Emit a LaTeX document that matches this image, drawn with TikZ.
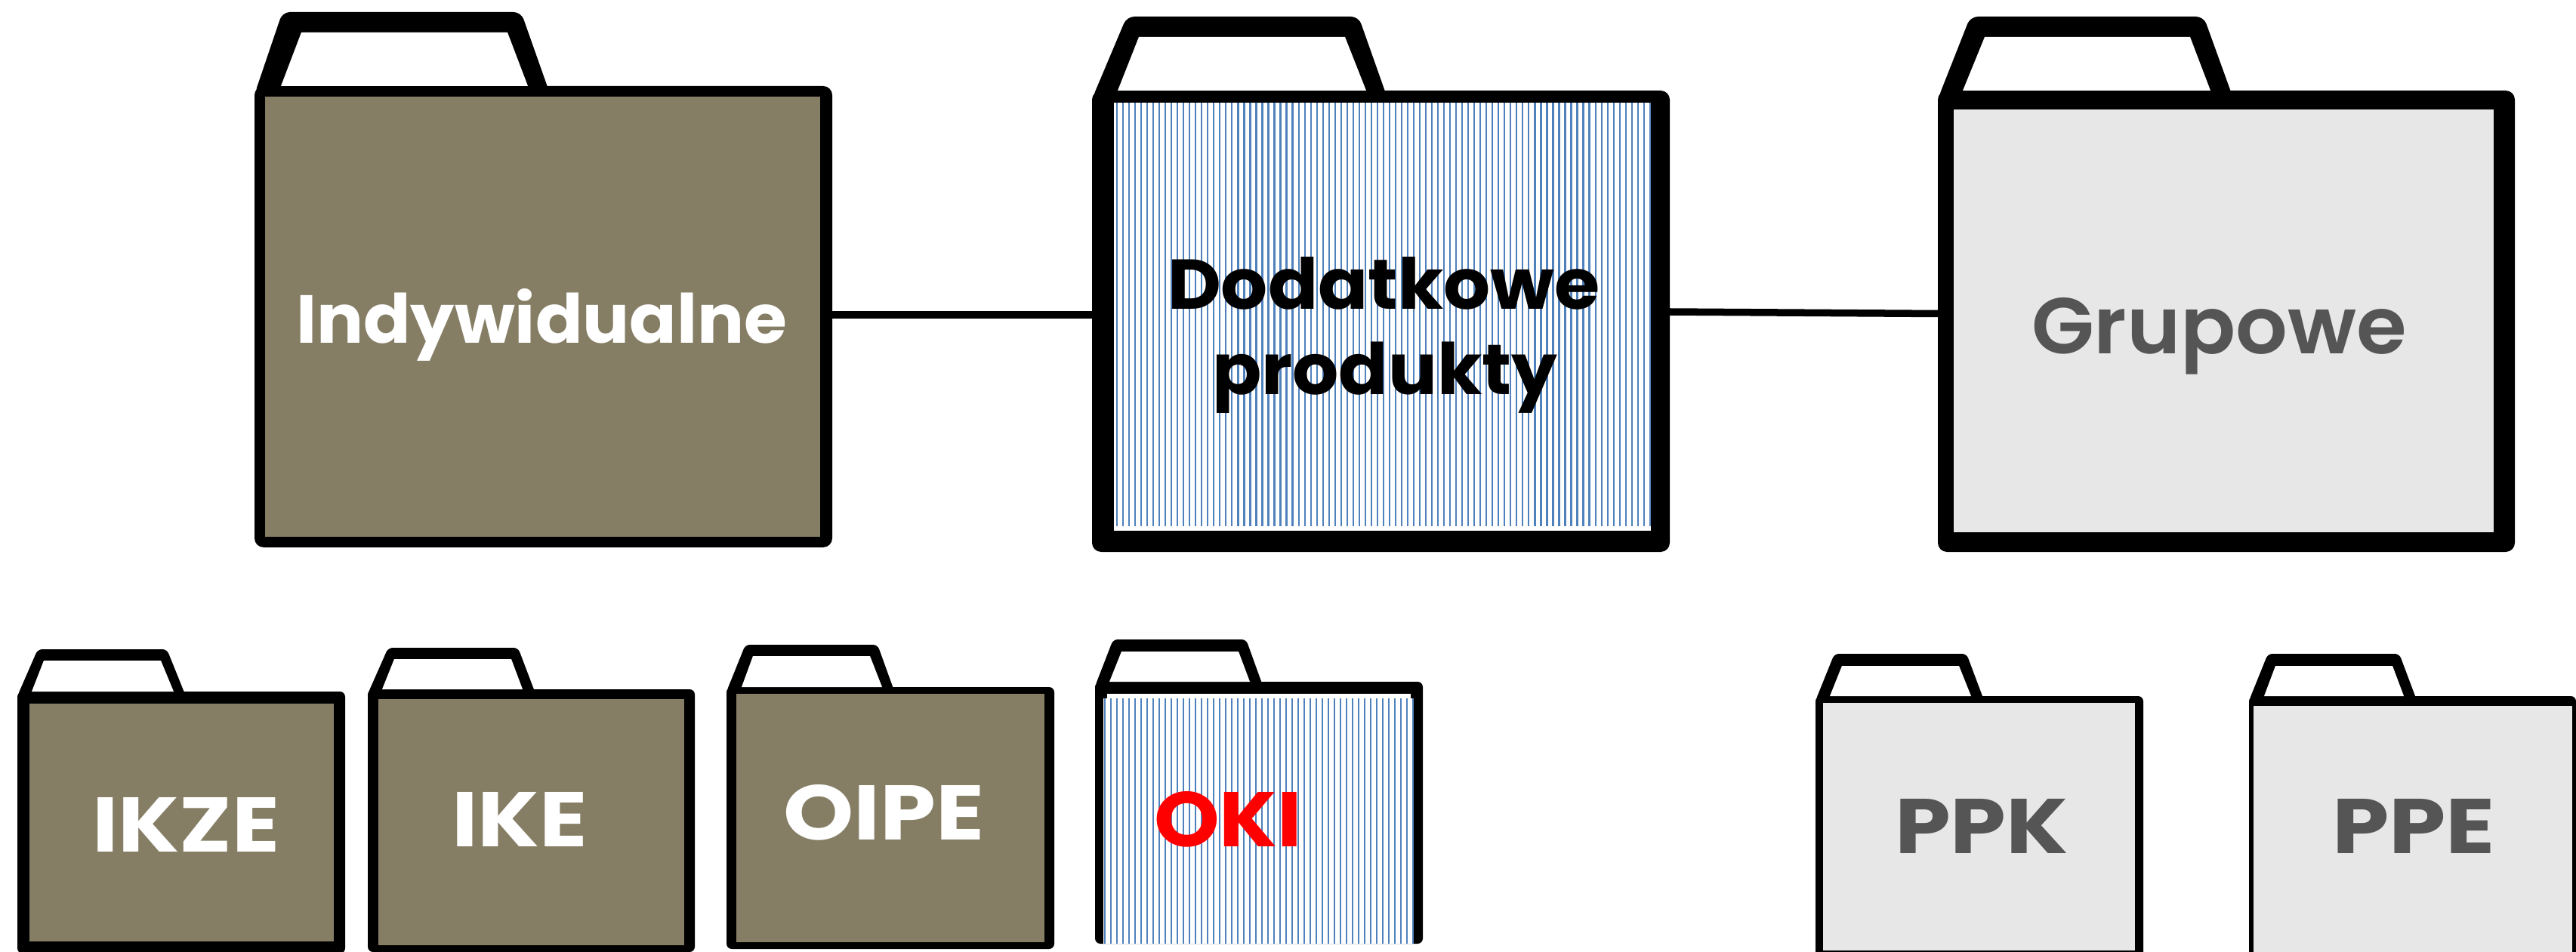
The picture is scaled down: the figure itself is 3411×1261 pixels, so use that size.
\documentclass[tikz,border=0pt]{standalone}
\usepackage{fontspec}
\usepackage{graphicx}
\setmainfont{Poppins}
\newfontfamily\semifont{Poppins SemiBold}
\definecolor{olive}{RGB}{133,126,101}
\definecolor{pale}{RGB}{231,231,231}
\definecolor{ink}{RGB}{85,85,85}
\definecolor{hatch}{RGB}{79,129,189}
\tikzset{
  bodybig/.style={fill=black,rounded corners=0.12cm,inner sep=0pt,outer sep=0pt},
  bodysmall/.style={fill=black,rounded corners=0.07cm,inner sep=0pt,outer sep=0pt},
  tabbig/.style={fill=black,rounded corners=0.1cm},
  tabsmall/.style={fill=black,rounded corners=0.06cm},
  holeshape/.style={fill=white},
  hatchline/.style={draw=hatch,line width=0.022cm},
  linkline/.style={draw=black,line width=0.095cm},
  lbl/.style={inner sep=0pt,outer sep=0pt,anchor=base west}
}
% style, L, T, vertex y, tab left, tab top, tab right, tab base right
\newcommand\fldrtab[7]{\fill[#1] (#2,#3) -- (#4,#5) -- (#6,#5) -- ({#7+4},{#3+10}) -- ({#2+6},{#3+10}) -- cycle;}
% name, style, L, T, R, B
\newcommand\fldrbody[6]{\node[#2,minimum width={(#5-#3)*0.01cm},minimum height={(#6-#4)*0.01cm}] (#1) at ({(#3+#5)/2},{(#4+#6)/2}) {};}
% base y, bl, tl, top, tr, br
\newcommand\fldrhole[6]{\fill[holeshape] (#2,#1) -- (#3,#4) -- (#5,#4) -- (#6,#1) -- cycle;}
% name, x, baseline, width, height, colour, text
\newcommand\fldrtext[7]{\node[lbl,text=#6] (#1) at (#2,#3) {\resizebox{#4}{#5}{\bfseries #7}};}
\begin{document}
\begin{tikzpicture}[x=0.01cm,y=-0.01cm]
\clip (0,0) rectangle (3411,1261);
\fill[white] (0,0) rectangle (3411,1261);

% Indywidualne
\fldrbody{indy}{bodybig}{337}{114}{1102}{725}
\fldrtab{tabbig}{337}{125}{374}{16}{690}{728}
\fldrhole{114}{372}{399}{43}{672}{699}
\fill[olive] (351,128) rectangle (1086,711);
\fldrtext{indyt}{392}{455}{6.50cm}{0.72cm}{white}{Indywidualne}

% Dodatkowe produkty
\fldrbody{dod}{bodybig}{1446}{120}{2211}{731}
\fldrtab{tabbig}{1446}{131}{1492}{22}{1799}{1837}
\fldrhole{120}{1480}{1508}{49}{1781}{1809}
\fill[white] (1475,136) rectangle (2186,703);
\foreach \i in {0,...,88} {\draw[hatchline] ({1479+\i*8.02},136) -- ({1479+\i*8.02},697);}
\fldrtext{dodt}{1546}{410}{5.72cm}{0.69cm}{black}{Dodatkowe}
\fldrtext{prodt}{1605}{522.5}{4.57cm}{0.695cm}{black}{produkty}

% Grupowe
\fldrbody{grp}{bodybig}{2566}{120}{3330}{731}
\fldrtab{tabbig}{2566}{131}{2609}{22}{2918}{2957}
\fldrhole{120}{2599}{2628}{49}{2900}{2927}
\fill[pale] (2587,145) rectangle (3302,705);
\fldrtext{grpt}{2690}{469}{4.97cm}{0.74cm}{ink}{\mdseries\semifont Grupowe}

% connectors
\draw[linkline] (indy.east |- 0,417) -- (dod.west |- 0,417);
\draw[linkline] (dod.east |- 0,413) -- (grp.west |- 0,415.5);

% IKZE
\fldrbody{ikze}{bodysmall}{23}{916}{457}{1263}
\fldrtab{tabsmall}{23}{922}{50}{860}{221}{246}
\fldrhole{916}{42}{58}{875}{213}{230}
\fill[olive] (39,932) rectangle (442,1247);
\fldrtext{ikzet}{122}{1128}{2.48cm}{0.72cm}{white}{IKZE}

% IKE
\fldrbody{ike}{bodysmall}{487}{913}{920}{1261}
\fldrtab{tabsmall}{487}{919}{514}{858}{686}{709}
\fldrhole{913}{506}{522}{873}{677}{692}
\fill[olive] (501,926) rectangle (906,1252);
\fldrtext{iket}{598}{1121}{1.80cm}{0.72cm}{white}{IKE}

% OIPE
\fldrbody{oipe}{bodysmall}{962}{910}{1396}{1257}
\fldrtab{tabsmall}{962}{916}{987}{854}{1162}{1184}
\fldrhole{910}{982}{997}{869}{1152}{1168}
\fill[olive] (975,919) rectangle (1383,1248);
\fldrtext{oipet}{1037}{1112}{2.66cm}{0.73cm}{white}{OIPE}

% OKI
\fldrbody{oki}{bodysmall}{1450}{903}{1884}{1250}
\fldrtab{tabsmall}{1450}{909}{1474}{847}{1650}{1672}
\fldrhole{903}{1469}{1485}{863}{1640}{1655}
\fill[white] (1466,919) rectangle (1868,925);
\fill[white] (1461,925) rectangle (1872,1250);
\foreach \i in {0,...,51} {\draw[hatchline] ({1463+\i*8},925) -- ({1463+\i*8},1250);}
\fldrtext{okit}{1528}{1121}{1.96cm}{0.73cm}{red}{OKI}

% PPK
\fldrbody{ppk}{bodysmall}{2404}{922}{2838}{1275}
\fldrtab{tabsmall}{2404}{928}{2429}{866}{2604}{2627}
\fldrhole{922}{2423}{2439}{882}{2594}{2610}
\fill[pale] (2414,931) rectangle (2827,1259);
\fldrtext{ppkt}{2509}{1130}{2.30cm}{0.72cm}{ink}{PPK}

% PPE
\fldrbody{ppe}{bodysmall}{2978}{922}{3411}{1275}
\fldrtab{tabsmall}{2978}{928}{3003}{866}{3177}{3200}
\fldrhole{922}{2998}{3013}{882}{3168}{3183}
\fill[pale] (2984,935) rectangle (3406,1275);
\fldrtext{ppet}{3088}{1130}{2.16cm}{0.72cm}{ink}{PPE}
\end{tikzpicture}
\end{document}
